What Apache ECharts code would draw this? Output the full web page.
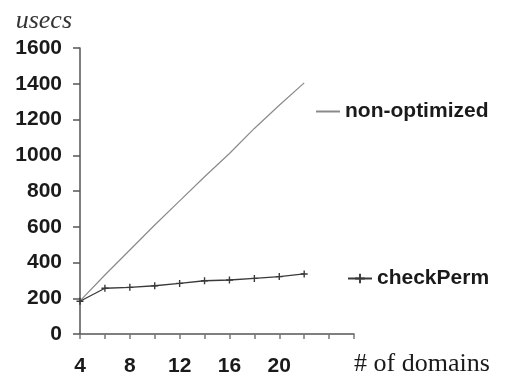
<!DOCTYPE html>
<html>
<head>
<meta charset="utf-8">
<script src="https://cdn.jsdelivr.net/npm/echarts@6/dist/echarts.min.js"></script>
<style>html,body{margin:0;padding:0;background:#fff}#c{width:505px;height:375px}</style>
</head>
<body>
<div id="c"></div>
<script>
var domains = [4, 6, 8, 10, 12, 14, 16, 18, 20, 22];
var nonOptimized = [185, 330, 470, 610, 745, 880, 1010, 1150, 1280, 1405];
var checkPerm = [183, 256, 261, 270, 283, 298, 302, 311, 321, 336];
var xTickLabels = [4, 8, 12, 16, 20];
var xTicks = [4, 6, 8, 10, 12, 14, 16, 18, 20, 22, 24, 26];
var yTickLabels = [0, 200, 400, 600, 800, 1000, 1200, 1400, 1600];

function pairs(xs, ys) { return xs.map(function (x, i) { return [x, ys[i]]; }); }

var chart = echarts.init(document.getElementById('c'), null, { renderer: 'canvas' });
var plus = 'path://M4,0h2v4h4v2h-4v4h-2v-4h-4v-2h4z';
chart.setOption({
  animation: false,
  backgroundColor: '#fff',
  grid: { left: 80, right: 151, top: 48, bottom: 41, containLabel: false, outerBoundsMode: 'none' },
  xAxis: {
    type: 'value', min: 4, max: 26, interval: 2,
    name: '# of domains', nameLocation: 'end', nameGap: 0,
    nameTextStyle: { fontFamily: 'Liberation Serif', fontSize: 26, color: '#1a1a1a', align: 'left', verticalAlign: 'top', padding: [17, 0, 0, 0] },
    axisLine: { lineStyle: { color: '#555', width: 1.5 } },
    axisTick: { show: true, length: 5, customValues: xTicks, lineStyle: { color: '#777', width: 1.5 } },
    axisLabel: { customValues: xTickLabels, margin: 22, fontFamily: 'Liberation Sans', fontWeight: 'bold', fontSize: 21, color: '#1a1a1a', formatter: function (v) { return String(v); } },
    splitLine: { show: false }
  },
  yAxis: {
    type: 'value', min: 0, max: 1600, interval: 200,
    name: 'usecs', nameLocation: 'end', nameGap: 27,
    nameTextStyle: { fontFamily: 'Liberation Serif', fontStyle: 'italic', fontSize: 26, color: '#333', align: 'right', verticalAlign: 'middle', padding: [0, 8, 0, 0] },
    axisLine: { show: true, lineStyle: { color: '#555', width: 1.5 } },
    axisTick: { show: true, length: 7, lineStyle: { color: '#555', width: 1.5 } },
    axisLabel: { customValues: yTickLabels, margin: 18, fontFamily: 'Liberation Sans', fontWeight: 'bold', fontSize: 21, color: '#1a1a1a', formatter: function (v) { return String(v); } },
    splitLine: { show: false }
  },
  legend: [
    {
      data: [{ name: 'non-optimized', itemStyle: { opacity: 0 } }], left: 310, top: 96, itemWidth: 24, itemHeight: 12, itemGap: 5,
      textStyle: { fontFamily: 'Liberation Sans', fontWeight: 'bold', fontSize: 21, color: '#1a1a1a' }
    },
    {
      data: ['checkPerm'], left: 342, top: 263, itemWidth: 24, itemHeight: 12, itemGap: 6,
      textStyle: { fontFamily: 'Liberation Sans', fontWeight: 'bold', fontSize: 21, color: '#1a1a1a' }
    }
  ],
  series: [
    {
      name: 'non-optimized', type: 'line', data: pairs(domains, nonOptimized),
      symbol: 'none', lineStyle: { color: '#8a8a8a', width: 1.2 }, itemStyle: { color: '#8a8a8a' }
    },
    {
      name: 'checkPerm', type: 'line', data: pairs(domains, checkPerm),
      symbol: plus, symbolSize: 7, lineStyle: { color: '#3a3a3a', width: 1.3 }, itemStyle: { color: '#3a3a3a' }
    }
  ]
});
</script>
</body>
</html>
